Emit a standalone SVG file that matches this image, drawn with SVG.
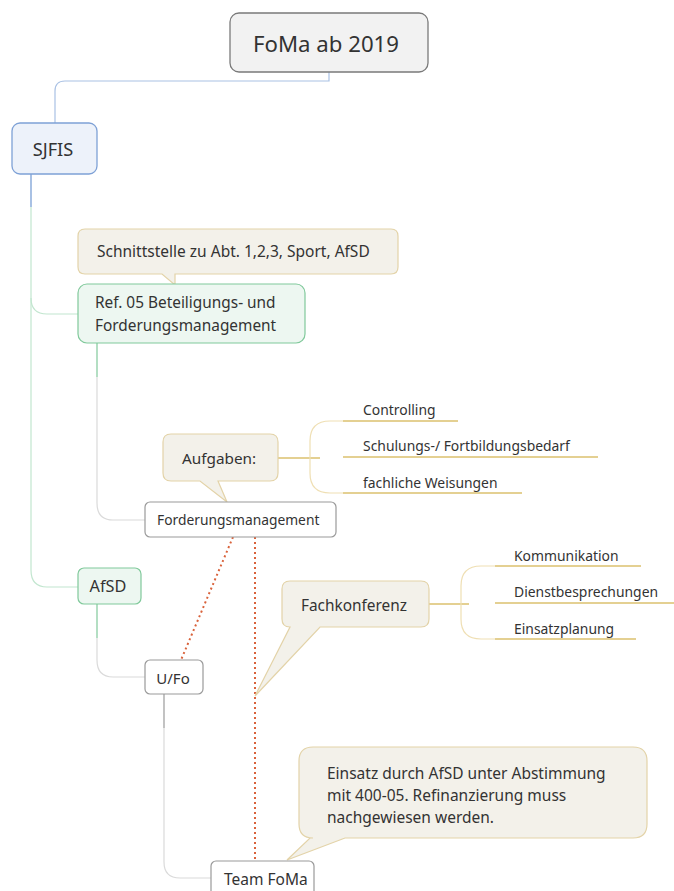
<svg xmlns="http://www.w3.org/2000/svg" width="674" height="891" viewBox="0 0 674 891">
<style>
text{font-family:"Noto Sans","Open Sans","DejaVu Sans",sans-serif;fill:#333}
.call{fill:#f3f1ea;stroke:#e3d3a8;stroke-width:1.2}
.green{fill:#edf7f1;stroke:#80c99b;stroke-width:1.2}
.white{fill:#fff;stroke:#9a9a9a;stroke-width:1.2}
.gold{stroke:#c9a227;stroke-width:1.2;fill:none}
.brk{stroke:#efdfb3;stroke-width:1.2;fill:none}
.dot{stroke:#d9623b;stroke-width:2;stroke-dasharray:2 3;fill:none}
.c{fill:none;stroke-width:1.2}
.item{font-size:13.9px}
</style>
<rect width="674" height="891" fill="#fff"/>
<g id="connectors">
<path class="c" stroke="#a9c1e4" d="M329,72 V81 H65 Q55,81 55,91 V123"/>
<path class="c" stroke="#6f98d2" d="M31,174 V207"/>
<path class="c" stroke="#c2e6cf" d="M31,207 V298 Q31,314 47,314 H78"/>
<path class="c" stroke="#c2e6cf" d="M31,298 V570 Q31,587 47,587 H78"/>
<path class="c" stroke="#80c99b" d="M97,343 V377"/>
<path class="c" stroke="#dadada" d="M97,377 V503 Q97,520 113,520 H145"/>
<path class="c" stroke="#80c99b" d="M97,604 V638"/>
<path class="c" stroke="#dadada" d="M97,638 V660 Q97,677 113,677 H145"/>
<path class="c" stroke="#9a9a9a" d="M164,694 V728"/>
<path class="c" stroke="#dadada" d="M164,728 V862 Q164,878 180,878 H211"/>
<path class="dot" d="M233,537 L181,660"/>
<path class="dot" d="M255,537 V861"/>
<path class="gold" d="M278,458 H320"/>
<path class="brk" d="M343,421 H330 Q310,421 310,441 V473 Q310,493 330,493 H343"/>
<path class="gold" d="M343,421 H458 M343,457 H598 M343,493 H522"/>
<path class="gold" d="M429,604 H469"/>
<path class="brk" d="M495,566 H481 Q461,566 461,586 V619 Q461,639 481,639 H495"/>
<path class="gold" d="M495,566 H641 M495,603 H674 M495,639 H636"/>
</g>
<g id="root">
<rect x="230" y="13" width="198" height="59" rx="9" fill="#f2f2f2" stroke="#7a7a7a" stroke-width="1.3"/>
<text x="326" y="52" font-size="22.2" text-anchor="middle">FoMa ab 2019</text>
</g>
<g id="sjfis">
<rect x="12" y="123" width="85" height="51" rx="8" fill="#edf2fa" stroke="#7ea1d6" stroke-width="1.3"/>
<text x="53" y="156" font-size="18.2" text-anchor="middle">SJFIS</text>
</g>
<g id="note-schnittstelle">
<path class="call" d="M85,229 H391 Q398,229 398,236 V267 Q398,274 391,274 H175 L175,285 L162,274 H85 Q78,274 78,267 V236 Q78,229 85,229 Z"/>
<text x="97" y="257" font-size="15.5">Schnittstelle zu Abt. 1,2,3, Sport, AfSD</text>
</g>
<g id="ref05">
<rect class="green" x="78" y="284" width="227" height="59" rx="9"/>
<text x="95" y="308" font-size="15.4">Ref. 05 Beteiligungs- und</text>
<text x="95" y="331" font-size="15.4">Forderungsmanagement</text>
</g>
<g id="aufgaben">
<path class="call" d="M171,434 H270 Q278,434 278,442 V473 Q278,481 270,481 H218 L227,502 L200,481 H171 Q163,481 163,473 V442 Q163,434 171,434 Z"/>
<text x="182" y="464" font-size="15.3">Aufgaben:</text>
</g>
<g id="controlling"><text class="item" x="363" y="415">Controlling</text></g>
<g id="schulungs"><text class="item" x="363" y="451">Schulungs-/ Fortbildungsbedarf</text></g>
<g id="weisungen"><text class="item" x="363" y="488">fachliche Weisungen</text></g>
<g id="forderungsmanagement">
<rect class="white" x="145" y="502" width="191" height="35" rx="5"/>
<text x="157" y="525" font-size="13.8">Forderungsmanagement</text>
</g>
<g id="afsd">
<rect class="green" x="78" y="568" width="63" height="36" rx="6"/>
<text x="108" y="592" font-size="16.3" text-anchor="middle">AfSD</text>
</g>
<g id="fachkonferenz">
<path class="call" d="M290,581 H421 Q429,581 429,589 V619 Q429,627 421,627 H320 L255,696 L290,627 Q282,627 282,619 V589 Q282,581 290,581 Z"/>
<text x="354" y="611" font-size="15.4" text-anchor="middle">Fachkonferenz</text>
</g>
<g id="kommunikation"><text class="item" x="514" y="561">Kommunikation</text></g>
<g id="dienstbesprechungen"><text class="item" x="514" y="597">Dienstbesprechungen</text></g>
<g id="einsatzplanung"><text class="item" x="514" y="634">Einsatzplanung</text></g>
<g id="ufo">
<rect class="white" x="145" y="660" width="58" height="34" rx="5"/>
<text x="173" y="684" font-size="15" text-anchor="middle">U/Fo</text>
</g>
<g id="note-einsatz">
<path class="call" d="M313,747 H633 Q647,747 647,761 V824 Q647,838 633,838 H345 L287,860 L310,838 H313 Q299,838 299,824 V761 Q299,747 313,747 Z"/>
<text x="327" y="779" font-size="15.5">Einsatz durch AfSD unter Abstimmung</text>
<text x="327" y="801" font-size="15.5">mit 400-05. Refinanzierung muss</text>
<text x="327" y="823" font-size="15.5">nachgewiesen werden.</text>
</g>
<g id="teamfoma">
<rect class="white" x="211" y="861" width="103" height="40" rx="5"/>
<text x="224" y="885" font-size="15.5">Team FoMa</text>
</g>
</svg>
